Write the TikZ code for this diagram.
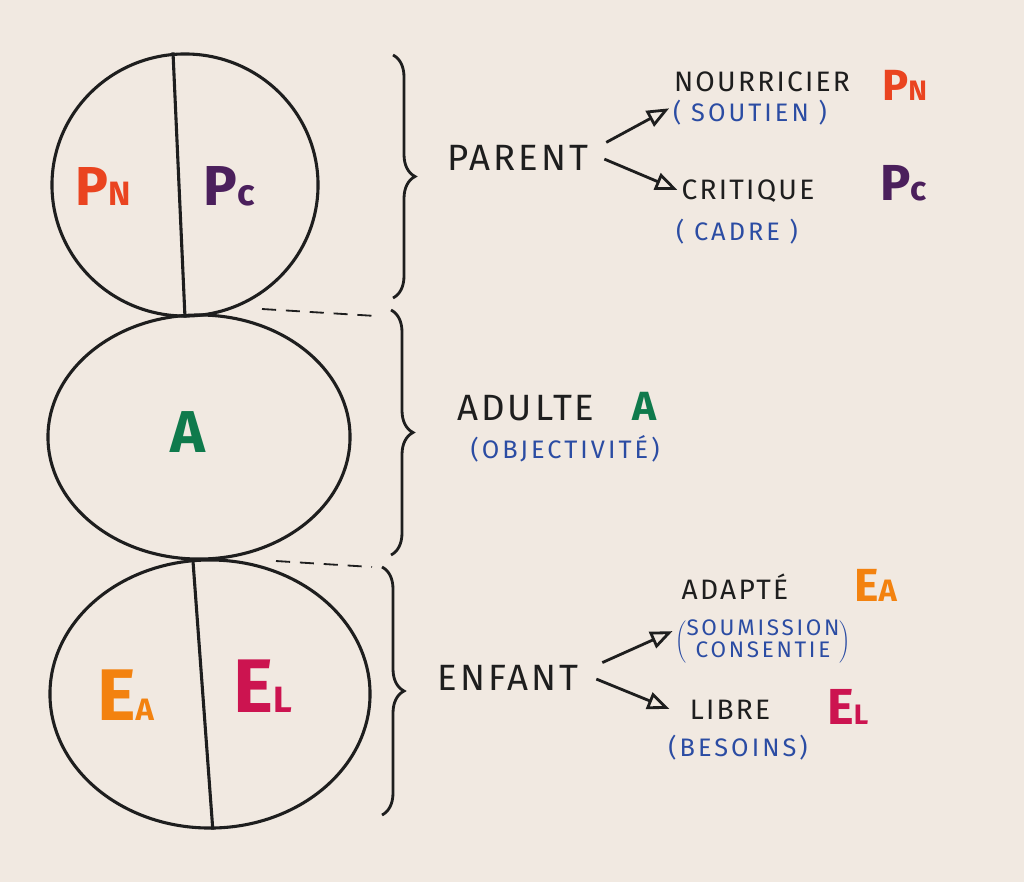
\documentclass[tikz,border=0pt]{standalone}
\usepackage{fontspec}
\setmainfont{Fira Sans}
\newfontfamily\hand{Fira Sans}[LetterSpace=8]
\newfontfamily\handlarge{Fira Sans}[LetterSpace=12]
\usetikzlibrary{arrows.meta, positioning, shapes.geometric, decorations.pathreplacing}
\usepackage{xcolor}
\definecolor{papier}{HTML}{F1E9E1}
\definecolor{encre}{HTML}{1E1E1E}
\definecolor{bleu}{HTML}{2B4CA3}
\definecolor{rougeP}{HTML}{EA4420}
\definecolor{violetP}{HTML}{4B1F5C}
\definecolor{vertA}{HTML}{0F7A4C}
\definecolor{orangeE}{HTML}{F3820F}
\definecolor{roseE}{HTML}{CC1450}

% big letter + small index, as drawn with a marker
\newcommand{\sigle}[5]{\textcolor{#1}{\bfseries\fontsize{#2}{#2}\selectfont #3\fontsize{#4}{#4}\selectfont #5}}

\begin{document}
\begin{tikzpicture}[x=0.025cm, y=-0.025cm,
    moi/.style={draw=encre, line width=2.2pt, ellipse, inner sep=0pt},
    titre/.style={font=\hand\fontsize{26}{28}\selectfont, text=encre, inner sep=1pt},
    sorte/.style={font=\hand\fontsize{20}{22}\selectfont, text=encre, inner sep=1pt},
    note/.style={font=\handlarge\fontsize{18}{21}\selectfont, text=bleu, inner sep=1pt, align=center},
    lettre/.style={anchor=base west, inner sep=0pt},
    accolade/.style={draw=encre, line width=2pt, decorate, decoration={brace, amplitude=0.55cm}},
    fleche/.style={draw=encre, line width=2pt, -{Triangle[open, length=5.5mm, width=4.4mm]}, shorten <=2pt, shorten >=2pt},
    tiret/.style={draw=encre, line width=1.3pt, dash pattern=on 10pt off 7pt}
]
\fill[papier] (0,0) rectangle (1024,882);

% the three ego states
\node[moi, minimum width=6.65cm, minimum height=6.55cm] (etatP) at (185,185) {};
\node[moi, minimum width=7.55cm, minimum height=6.1cm] (etatA) at (199,437) {};
\node[moi, minimum width=8cm, minimum height=6.7cm] (etatE) at (210,694) {};
\draw[encre, line width=2.2pt] ([xshift=-0.3cm]etatP.north) -- (etatP.south);
\draw[encre, line width=2.2pt] ([xshift=-0.43cm]etatE.north) -- ([xshift=0.07cm]etatE.south);

\node[lettre] (pnIn) at (75,205) {\sigle{rougeP}{39}{P}{24}{N}};
\node[lettre] (pcIn) at (203,205) {\sigle{violetP}{40}{P}{26}{c}};
\node[lettre] (aIn) at (170,452) {\sigle{vertA}{42}{A}{10}{}};
\node[lettre] (eaIn) at (97,720) {\sigle{orangeE}{52}{E}{22}{A}};
\node[lettre] (elIn) at (233,712) {\sigle{roseE}{54}{E}{26}{L}};

% dashes between the states
\coordinate (d1a) at (262,309);
\coordinate (d1b) at (376,316);
\coordinate (d2a) at (276,561);
\coordinate (d2b) at (372,567);
\draw[tiret] (d1a) -- (d1b);
\draw[tiret] (d2a) -- (d2b);

% braces
\draw[accolade] (393,55) -- (393,298);
\draw[accolade] (391,310) -- (391,555);
\draw[accolade] (382,567) -- (382,815);

% labels
\node[titre] (parent) at (518,158) {PARENT};
\node[sorte] (nourricier) at (762,82) {NOURRICIER};
\node[note] (soutien) at (750,113) {( SOUTIEN )};
\node[sorte] (critique) at (748,191) {CRITIQUE};
\node[note] (cadre) at (737,232) {( CADRE )};
\node[lettre] (pnOut) at (882,100) {\sigle{rougeP}{31}{P}{20}{N}};
\node[lettre] (pcOut) at (880,200) {\sigle{violetP}{36}{P}{24}{c}};

\node[titre] (adulte) at (526,408) {ADULTE};
\node[lettre] (aOut) at (632,420) {\sigle{vertA}{29}{A}{10}{}};
\node[note] (objectivite) at (565,449) {(OBJECTIVITÉ)};

\node[titre] (enfant) at (508,678) {ENFANT};
\node[sorte] (adapte) at (735,587) {ADAPTÉ};
\node[note, inner sep=0pt] (soumission) at (763,642) {$\left(\vcenter{\hbox{\handlarge\fontsize{16}{16}\selectfont\begin{tabular}{@{}c@{}}SOUMISSION\\CONSENTIE\end{tabular}}}\right)$};
\node[sorte] (libre) at (730,710) {LIBRE};
\node[note] (besoins) at (738,748) {(BESOINS)};
\node[lettre] (eaOut) at (854,601) {\sigle{orangeE}{33}{E}{22}{A}};
\node[lettre] (elOut) at (827,724) {\sigle{roseE}{36}{E}{20}{L}};

% arrows
\draw[fleche] ([xshift=0.35cm]parent.north east) -- ([yshift=0.15cm]soutien.west);
\draw[fleche] ([xshift=0.3cm]parent.east) -- (critique.west);
\draw[fleche] ([xshift=0.5cm]enfant.north east) -- ([yshift=0.3cm]soumission.west);
\draw[fleche] ([xshift=0.35cm]enfant.east) -- ([xshift=-0.4cm]libre.west);
\end{tikzpicture}
\end{document}
